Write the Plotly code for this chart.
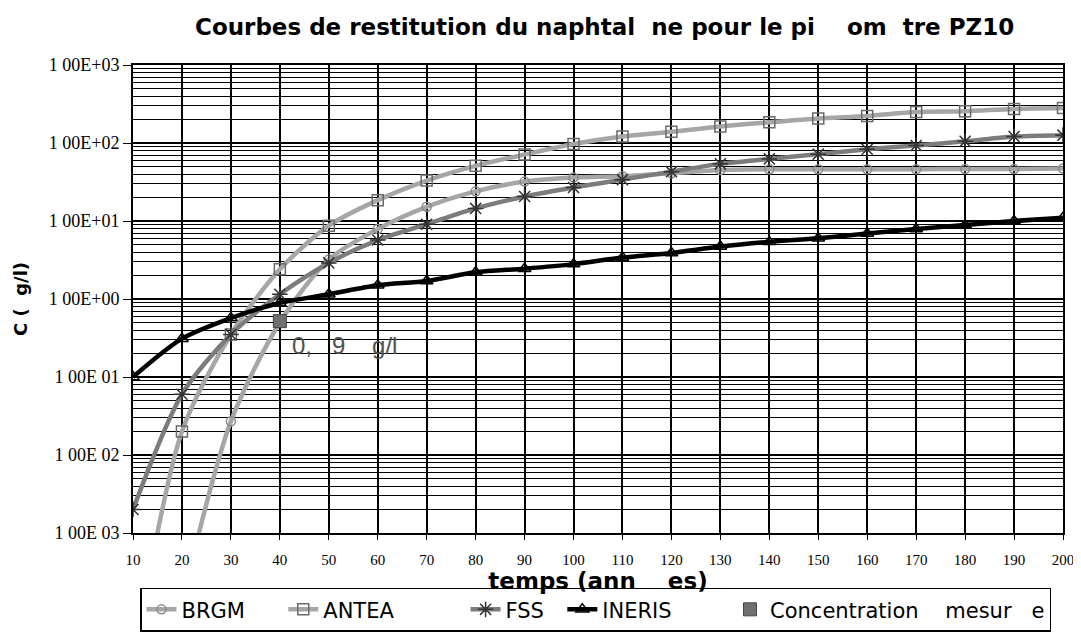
import plotly.graph_objects as go

# ---------------- data ----------------
years = [10, 20, 30, 40, 50, 60, 70, 80, 90, 100,
         110, 120, 130, 140, 150, 160, 170, 180, 190, 200]

brgm = [None, 1.3e-4, 0.027, 0.5, 3.2, 7.9, 15.2, 24, 32, 36,
        37.5, 41, 45, 46, 46, 46, 46, 46.5, 46.5, 47]
antea = [2e-5, 0.02, 0.35, 2.4, 8.7, 18.5, 33, 51, 71, 97,
         121, 139, 163, 184, 206, 222, 249, 256, 273, 281]
fss = [0.002, 0.06, 0.35, 1.15, 2.9, 5.7, 9.1, 14.5, 20.6, 26.9,
       33.9, 42.9, 54, 62.5, 72, 83, 93, 105, 121, 126]
ineris = [0.1, 0.31, 0.57, 0.89, 1.15, 1.5, 1.7, 2.2, 2.45, 2.8,
          3.4, 3.9, 4.7, 5.4, 6.0, 6.9, 7.9, 8.9, 10, 11]

measured_x = [40]
measured_y = [0.52]
measured_label = "0,   9    g/l"

y_tickvals = [1e-3, 1e-2, 1e-1, 1e0, 1e1, 1e2, 1e3]
y_ticktext = ["1 00E 03", "1 00E 02", "1 00E 01", "1 00E+00",
              "1 00E+01", "1 00E+02", "1 00E+03"]
x_tickvals = years

title_text = "Courbes de restitution du naphtal  ne pour le pi    om  tre PZ10"
x_title = "temps (ann    es)"
y_title = "C (  g/l)"

legend_names = ["BRGM" + " " * 5, "ANTEA" + " " * 10, "FSS" + " " * 2,
                "INERIS" + " " * 8, "Concentration" + " " * 4 + "mesur   e"]

minor_vals = [k * 10 ** d for d in range(-3, 3) for k in range(2, 10)]

# ---------------- layout geometry ----------------
# the page body adds an 8 px margin (figure drawn from screen x=8, y=8)
OFF = 8
W, H = 1081 - OFF, 644 - OFF
L, R, T, B = 133 - OFF, W - (1063 - OFF), 65 - OFF, H - (541 - OFF)
PW, PH = W - L - R, H - T - B

# ---------------- figure ----------------
fig = go.Figure()

fig.add_trace(go.Scatter(
    x=years, y=brgm, name=legend_names[0], mode="lines+markers",
    line=dict(color="#a6a6a6", width=4.5, shape="spline", smoothing=0.8),
    marker=dict(symbol="circle-open", size=9, color="#8a8a8a", line=dict(width=1.5)),
))
fig.add_trace(go.Scatter(
    x=years, y=antea, name=legend_names[1], mode="lines+markers",
    line=dict(color="#a6a6a6", width=4.5, shape="spline", smoothing=0.8),
    marker=dict(symbol="square-open", size=11, color="#6a6a6a", line=dict(width=1.5)),
))
fig.add_trace(go.Scatter(
    x=years, y=fss, name=legend_names[2], mode="lines+markers",
    line=dict(color="#7c7c7c", width=4.5, shape="spline", smoothing=0.8),
    marker=dict(symbol="asterisk-open", size=13, color="#333333", line=dict(width=1.5)),
))
fig.add_trace(go.Scatter(
    x=years, y=ineris, name=legend_names[3], mode="lines+markers",
    line=dict(color="#000000", width=4.5, shape="spline", smoothing=0.8),
    marker=dict(symbol="triangle-up-open", size=11, color="#000000", line=dict(width=1.5)),
))
fig.add_trace(go.Scatter(
    x=measured_x, y=measured_y, name=legend_names[4], mode="markers",
    marker=dict(symbol="square", size=13, color="#707070",
                line=dict(color="#444444", width=1)),
))

fig.add_annotation(
    x=42, y=-0.6, xref="x", yref="y", text=measured_label,
    showarrow=False, xanchor="left", yanchor="middle",
    font=dict(family="Liberation Sans", size=24, color="#505050"),
)
fig.add_annotation(
    x=(604 - OFF - L) / PW, y=1 + (T - (26 - OFF)) / PH, xref="paper", yref="paper",
    text="<b>" + title_text + "</b>", showarrow=False,
    xanchor="center", yanchor="middle",
    font=dict(family="DejaVu Sans", size=23, color="black"),
)

fig.update_layout(
    width=W, height=H,
    margin=dict(l=L, r=R, t=T, b=B),
    paper_bgcolor="white", plot_bgcolor="white",
    showlegend=True,
    legend=dict(
        orientation="h", x=(140 - OFF - L) / PW, xanchor="left",
        y=-(619 - OFF - (H - B)) / PH, yanchor="middle",
        bordercolor="black", borderwidth=1.5, bgcolor="white",
        font=dict(family="DejaVu Sans", size=21, color="black"),
        itemwidth=30, traceorder="normal",
    ),
    xaxis=dict(
        range=[10, 200], tickmode="array", tickvals=x_tickvals,
        showgrid=True, gridcolor="black", gridwidth=1.5,
        showline=True, linecolor="black", linewidth=2, mirror=True,
        ticks="outside", ticklen=5, tickcolor="black",
        ticklabelstandoff=7, ticklabeloverflow="allow",
        tickfont=dict(family="Liberation Serif", size=15, color="black"),
        title=dict(text=x_title, standoff=1,
                   font=dict(family="DejaVu Sans", size=23, color="black", weight="bold")),
        zeroline=False, automargin=False,
    ),
    yaxis=dict(
        type="log", range=[-3, 3], tickmode="array",
        tickvals=y_tickvals, ticktext=y_ticktext,
        showgrid=True, gridcolor="black", gridwidth=1.5,
        showline=True, linecolor="black", linewidth=2, mirror=True,
        ticks="outside", ticklen=8, tickcolor="black",
        tickfont=dict(family="Liberation Serif", size=18, color="black"),
        title=dict(text=y_title, standoff=16,
                   font=dict(family="DejaVu Sans", size=18, color="black", weight="bold")),
        minor=dict(tickmode="array", tickvals=minor_vals, showgrid=True,
                   gridcolor="black", gridwidth=1, ticks=""),
        zeroline=False, automargin=False,
    ),
)

fig.write_html("out.html")
